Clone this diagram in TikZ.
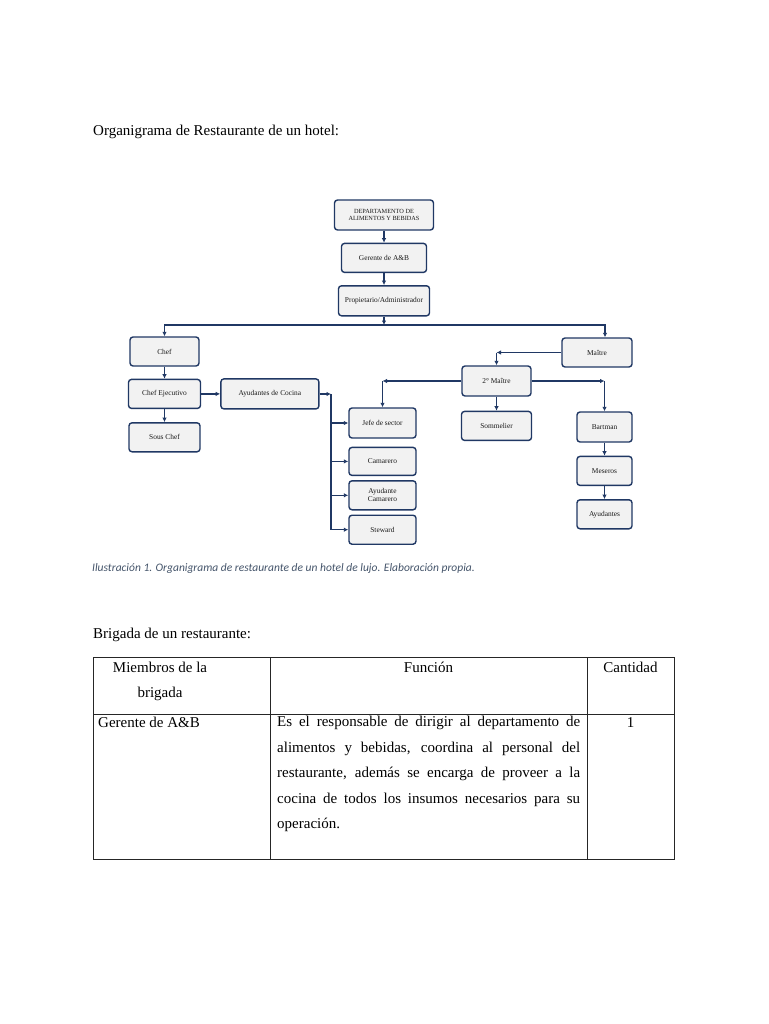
\documentclass[tikz,border=0pt]{standalone}
\usepackage{fontspec}
\setmainfont{Liberation Serif}
\newfontfamily\carlito{Carlito}
\usepackage{tikz}
\usepackage{xcolor}
\usetikzlibrary{arrows.meta, positioning}
\definecolor{azul}{RGB}{32,56,100}
\definecolor{gris}{RGB}{242,242,242}
\definecolor{leyenda}{RGB}{68,84,106}
\tikzstyle{caja} = [rectangle, rounded corners=3pt,
minimum width=70pt,
minimum height=29pt,
inner sep=1pt,
text centered,
align=center,
fill=gris,
line width=1.4pt,
draw=azul,
text=black!90,
font=\fontsize{7.4}{8}\selectfont]
\tikzstyle{flecha} = [line width=1.4pt,-{Latex[length=4.5pt,width=4.5pt]},draw=azul]
\tikzstyle{texto} = [inner sep=0pt, font=\fontsize{15}{18}\selectfont]

\begin{document}
\begin{tikzpicture}[x=1pt, y=-1pt]
        \useasboundingbox (0,0) rectangle (768,1024);

        % Textos
        \node (titulo) [texto, anchor=base west] at (93,136) {Organigrama de Restaurante de un hotel:};
        \node (ilustracion) [inner sep=0pt, anchor=base west, text=leyenda, font=\carlito\itshape\fontsize{11.5}{13}\selectfont] at (92,571) {Ilustración 1. Organigrama de restaurante de un hotel de lujo. Elaboración propia.};
        \node (brigada) [texto, anchor=base west] at (93,638) {Brigada de un restaurante:};

        % Cajas
        \node (depto) [caja, minimum width=99pt, minimum height=30pt, font=\fontsize{6.3}{7.6}\selectfont] at (384,215) {DEPARTAMENTO DE\\ALIMENTOS Y BEBIDAS};
        \node (gerente) [caja, minimum width=85pt, below=12pt of depto] {Gerente de A\&B};
        \node (propietario) [caja, minimum width=91pt, minimum height=30pt, below=12pt of gerente] {Propietario/Administrador};
        \node (chef) [caja, minimum width=69pt] at (164.5,351.5) {Chef};
        \node (chefejec) [caja, minimum width=72pt, below=12pt of chef] {Chef Ejecutivo};
        \node (souschef) [caja, minimum width=71pt, below=13pt of chefejec] {Sous Chef};
        \node (ayucocina) [caja, minimum width=98pt, minimum height=30pt, right=19pt of chefejec] {Ayudantes de Cocina};
        \node (jefe) [caja, minimum width=67pt, minimum height=30pt] at (382.5,423) {Jefe de sector};
        \node (camarero) [caja, minimum width=67pt, minimum height=28pt, below=8pt of jefe] {Camarero};
        \node (ayucamarero) [caja, minimum width=67pt, below=4pt of camarero] {Ayudante\\Camarero};
        \node (steward) [caja, minimum width=67pt, below=4pt of ayucamarero] {Steward};
        \node (maitre) [caja] at (597,352.5) {Maître};
        \node (maitre2) [caja, minimum width=69pt, minimum height=30pt] at (496.5,381) {2° Maître};
        \node (sommelier) [caja, below=14pt of maitre2] {Sommelier};
        \node (bartman) [caja, minimum width=55pt, minimum height=30pt] at (604.5,427) {Bartman};
        \node (meseros) [caja, minimum width=55pt, below=13pt of bartman] {Meseros};
        \node (ayudantes) [caja, minimum width=55pt, below=13pt of meseros] {Ayudantes};

        \coordinate (bus) at (384,325);
        \coordinate (buscocina) at (331,394);
        \coordinate (esqmaitre) at (maitre.west -| maitre2.north);
        \coordinate (esqjefe) at (maitre2.west -| jefe.north);
        \coordinate (esqbart) at (maitre2.east -| bartman.north);

        % Flechas
        \draw [flecha] (depto) -- (gerente);
        \draw [flecha] (gerente) -- (propietario);
        \draw [flecha] (propietario) -- (bus);
        \draw [flecha] (bus) -| (chef.north);
        \draw [flecha] (bus) -| ([xshift=8pt]maitre.north);
        \draw [flecha] (chef) -- (chefejec);
        \draw [flecha] (chefejec) -- (souschef);
        \draw [flecha] (chefejec) -- (chefejec -| ayucocina.west);
        \draw [flecha] (ayucocina.east |- buscocina) -- (buscocina);
        \draw [flecha] (buscocina) |- (jefe.west);
        \draw [flecha] (buscocina) |- (camarero.west);
        \draw [flecha] (buscocina) |- (ayucamarero.west);
        \draw [flecha] (buscocina) |- (steward.west);
        \draw [flecha] (maitre.west) -- (esqmaitre);
        \draw [flecha] (esqmaitre) -- (maitre2.north);
        \draw [flecha] (maitre2.west) -- (esqjefe);
        \draw [flecha] (esqjefe) -- (jefe.north);
        \draw [flecha] (maitre2.east) -- (esqbart);
        \draw [flecha] (esqbart) -- (bartman.north);
        \draw [flecha] (maitre2) -- (sommelier);
        \draw [flecha] (bartman) -- (meseros);
        \draw [flecha] (meseros) -- (ayudantes);

        % Tabla
        \draw [line width=0.9pt, draw=black!85] (93,657) rectangle (674,859);
        \draw [line width=0.9pt, draw=black!85] (270,657) -- (270,859);
        \draw [line width=0.9pt, draw=black!85] (587,657) -- (587,859);
        \draw [line width=0.9pt, draw=black!85] (93,714) -- (674,714);
        \node (miembros) [texto, align=center, anchor=north, font=\fontsize{15}{25}\selectfont] at (160,661.5) {Miembros de la\\brigada};
        \node (funcion) [texto, anchor=base] at (428.5,672) {Función};
        \node (cantidad) [texto, anchor=base] at (630.5,672) {Cantidad};
        \node (gerenteAB) [texto, anchor=base west] at (98,727) {Gerente de A\&B};
        \node (uno) [texto, anchor=base] at (630.5,727) {1};
        \node (descripcion) [texto, anchor=north west, text width=303pt, align=justify, font=\fontsize{15}{25.5}\selectfont] at (277,716) {Es el responsable de dirigir al departamento de\linebreak alimentos y bebidas, coordina al personal del\linebreak restaurante, además se encarga de proveer a la\linebreak cocina de todos los insumos necesarios para su\linebreak operación.};

    \end{tikzpicture}
\end{document}
